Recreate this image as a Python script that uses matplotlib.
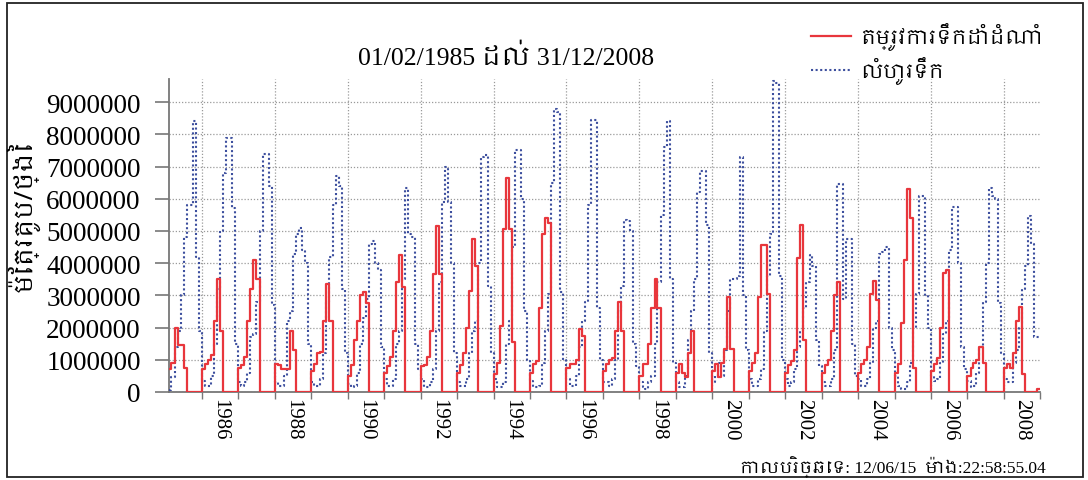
import datetime as dt
import numpy as np
import pandas as pd
import matplotlib
matplotlib.use("Agg")
import matplotlib.pyplot as plt
import matplotlib.dates as mdates
from matplotlib import font_manager
from matplotlib.ft2font import FT2Font
from matplotlib.lines import Line2D
from matplotlib.patches import Rectangle

# ---------------- data (million m3 / day, monthly) ----------------
UNIT = 1_000_000
START = "1985-02-01"
END = "2008-12-01"

# irrigation water demand (red), Jan..Dec for each year (1985 starts in Feb)
demand = {
    1985: [0.70, 0.90, 2.00, 1.45, 1.45, 0.75, 0, 0, 0, 0, 0],
    1986: [0.70, 0.87, 1.00, 1.15, 2.20, 3.50, 1.90, 0, 0, 0, 0, 0],
    1987: [0.75, 0.85, 1.10, 2.20, 3.20, 4.10, 3.50, 0, 0, 0, 0, 0],
    1988: [0.87, 0.85, 0.72, 0.70, 0.70, 1.90, 1.30, 0, 0, 0, 0, 0],
    1989: [0.65, 0.87, 1.20, 1.25, 2.20, 3.35, 2.20, 0, 0, 0, 0, 0],
    1990: [0.50, 0.85, 1.60, 2.20, 3.00, 3.10, 2.75, 0, 0, 0, 0, 0],
    1991: [0.60, 0.80, 1.10, 1.90, 3.40, 4.25, 3.25, 0, 0, 0, 0, 0],
    1992: [0.80, 0.85, 1.10, 1.90, 3.65, 5.15, 3.65, 0, 0, 0, 0, 0],
    1993: [0.60, 0.85, 1.20, 2.00, 3.15, 4.75, 3.90, 0, 0, 0, 0, 0],
    1994: [0.55, 0.90, 2.05, 5.05, 6.65, 5.05, 1.55, 0, 0, 0, 0, 0],
    1995: [0.60, 0.87, 0.95, 2.60, 4.90, 5.40, 5.25, 0, 0, 0, 0, 0],
    1996: [0.75, 0.87, 0.87, 1.00, 1.95, 1.75, 0, 0, 0, 0, 0, 0],
    1997: [0.65, 0.87, 1.00, 1.05, 1.90, 2.80, 1.90, 0, 0, 0, 0, 0],
    1998: [0.50, 0.87, 0.87, 1.50, 2.60, 3.50, 2.60, 0, 0, 0, 0, 0],
    1999: [0.60, 0.87, 0.60, 0.45, 1.20, 1.90, 0, 0, 0, 0, 0, 0],
    2000: [0.65, 0.87, 0.45, 0.90, 1.35, 2.95, 1.35, 0, 0, 0, 0, 0],
    2001: [0.65, 0.90, 1.20, 2.95, 4.55, 4.55, 3.05, 0, 0, 0, 0, 0],
    2002: [0.60, 0.85, 0.95, 1.30, 4.15, 5.20, 1.60, 0, 0, 0, 0, 0],
    2003: [0.60, 0.85, 1.00, 1.90, 3.00, 3.40, 0, 0, 0, 0, 0, 0],
    2004: [0.60, 0.87, 1.00, 1.40, 3.05, 3.45, 2.85, 0, 0, 0, 0, 0],
    2005: [0.60, 0.87, 2.15, 4.10, 6.30, 5.40, 0.75, 0, 0, 0, 0, 0],
    2006: [0.65, 0.87, 1.05, 2.00, 3.70, 3.80, 0, 0, 0, 0, 0, 0],
    2007: [0.50, 0.75, 0.90, 1.00, 1.40, 0.90, 0, 0, 0, 0, 0, 0],
    2008: [0.75, 0.87, 0.75, 1.20, 2.20, 2.65, 0.55, 0, 0, 0, 0, 0.10],
}

# river flow (blue dotted), Jan..Dec for each year (1985 starts in Feb)
flow = {
    1985: [0.05, 0.45, 1.40, 1.90, 3.00, 4.80, 5.80, 5.80, 8.40, 4.20, 1.90],
    1986: [0.35, 0.20, 0.20, 0.50, 1.50, 3.20, 5.00, 6.80, 7.90, 7.90, 5.70, 1.50],
    1987: [0.30, 0.20, 0.30, 0.60, 1.70, 1.80, 2.80, 5.00, 7.40, 7.40, 6.40, 2.70],
    1988: [0.30, 0.20, 0.20, 0.50, 2.20, 2.50, 4.30, 4.90, 5.10, 4.40, 4.00, 1.50],
    1989: [0.30, 0.20, 0.20, 0.40, 1.20, 2.80, 4.20, 5.80, 6.70, 6.40, 3.20, 1.20],
    1990: [0.25, 0.15, 0.20, 0.60, 1.50, 2.30, 2.90, 4.60, 4.70, 4.00, 3.80, 1.40],
    1991: [0.40, 0.20, 0.20, 0.40, 1.50, 1.90, 3.50, 6.35, 4.90, 4.80, 1.50, 0.70],
    1992: [0.40, 0.15, 0.15, 0.30, 0.70, 1.90, 3.40, 5.90, 7.00, 5.90, 4.00, 1.20],
    1993: [0.30, 0.20, 0.20, 0.40, 1.20, 1.90, 2.20, 4.00, 7.30, 7.35, 3.30, 1.20],
    1994: [0.40, 0.15, 0.15, 0.30, 1.50, 2.20, 4.50, 7.50, 7.50, 6.00, 2.50, 1.00],
    1995: [0.35, 0.15, 0.15, 0.20, 0.90, 1.90, 3.05, 6.50, 8.80, 8.70, 3.10, 1.00],
    1996: [0.40, 0.20, 0.20, 0.50, 1.40, 2.20, 2.80, 5.80, 8.45, 8.45, 2.60, 1.00],
    1997: [0.30, 0.30, 0.20, 0.40, 1.00, 2.50, 3.30, 5.35, 5.30, 5.00, 1.50, 0.80],
    1998: [0.30, 0.15, 0.10, 0.30, 0.50, 1.50, 3.40, 5.50, 7.60, 8.40, 3.50, 0.90],
    1999: [0.30, 0.15, 0.15, 0.50, 1.60, 2.50, 3.50, 6.20, 6.85, 6.85, 5.20, 1.20],
    2000: [0.30, 0.50, 0.90, 0.50, 1.30, 2.50, 3.50, 3.50, 3.60, 7.30, 3.00, 1.30],
    2001: [0.40, 0.20, 0.20, 0.40, 0.70, 1.90, 3.60, 4.90, 9.65, 9.60, 3.60, 1.00],
    2002: [0.40, 0.20, 0.30, 0.70, 1.40, 1.90, 2.60, 3.40, 4.25, 3.90, 1.60, 0.80],
    2003: [0.30, 0.20, 0.20, 0.40, 1.30, 6.45, 6.45, 2.90, 4.75, 4.75, 1.50, 0.50],
    2004: [0.40, 0.20, 0.20, 0.40, 0.90, 2.00, 2.20, 4.30, 4.35, 4.50, 2.00, 1.30],
    2005: [0.50, 0.20, 0.10, 0.10, 0.30, 0.90, 2.00, 3.05, 6.10, 6.10, 3.00, 2.00],
    2006: [0.50, 0.35, 0.40, 0.90, 1.80, 2.20, 4.40, 5.75, 5.75, 4.00, 1.40, 0.70],
    2007: [0.35, 0.15, 0.20, 0.60, 1.40, 2.80, 4.00, 6.35, 6.10, 6.00, 2.75, 1.20],
    2008: [0.40, 0.30, 0.30, 0.90, 1.30, 2.00, 3.20, 3.90, 5.45, 4.60, 1.70, 1.70],
}

y_ticks = [0, 1000000, 2000000, 3000000, 4000000, 5000000,
           6000000, 7000000, 8000000, 9000000]
year_labels = list(range(1986, 2009, 2))

title_text = "01/02/1985 ដល់ 31/12/2008"
ylabel_text = "ម៉ែត្រគូប/ថ្ងៃ"
legend_labels = ["តម្រូវការទឹកដាំដំណាំ", "លំហូរទឹក"]
footer_text = "កាលបរិច្ឆេទ: 12/06/15  ម៉ោង:22:58:55.04"


# ---------------- fonts ----------------
def khmer_families():
    names = []
    for f in font_manager.fontManager.ttflist:
        if f.name in names:
            continue
        try:
            cm = FT2Font(f.fname).get_charmap()
            if 0x1780 in cm and 0x17D2 in cm:
                names.append(f.name)
        except Exception:
            pass
    names.sort(key=lambda n: (0 if "Khmer" in n else 1, n))
    return names


KH = khmer_families()
SERIF_MIX = ["Liberation Serif"] + KH + ["DejaVu Sans"]
KH_MIX = KH + ["Liberation Serif", "DejaVu Sans"]

# ---------------- series ----------------
dates = pd.date_range(START, END, freq="MS")
dem = np.concatenate([demand[y] for y in sorted(demand)]) * UNIT
flo = np.concatenate([flow[y] for y in sorted(flow)]) * UNIT
end_date = dates[-1] + pd.offsets.MonthBegin(1)
xd = list(dates) + [end_date]
dem_s = np.append(dem, dem[-1])
flo_s = np.append(flo, flo[-1])

# ---------------- figure ----------------
fig = plt.figure(figsize=(10.88, 4.81), dpi=100)
fig.patch.set_facecolor("white")
fig.patches.append(Rectangle((0.0065, 0.006), 0.9885, 0.986, transform=fig.transFigure,
                             fill=False, edgecolor="#222222", linewidth=1.3))

ax = fig.add_axes([0.155, 0.183, 0.8013, 0.6507])

ax.step(xd, flo_s, where="post", color="#3d4f9e", linewidth=1.5,
        linestyle=(0, (1, 1.2)), label=legend_labels[1], zorder=3)
ax.step(xd, dem_s, where="post", color="#e8363c", linewidth=1.6,
        label=legend_labels[0], zorder=4)

ax.set_xlim(dates[0], end_date)
ax.set_ylim(0, 9.72 * UNIT)

# grid
ax.set_yticks(y_ticks)
ax.yaxis.grid(True, color="#9a9a9a", linestyle=(0, (1, 1.5)), linewidth=0.9)
for yr in year_labels:
    ax.axvline(dt.datetime(yr, 1, 1), color="#9a9a9a", linestyle=(0, (1, 1.5)),
               linewidth=0.9, zorder=1)

# x ticks: a tick mark every year, labels mid-year of even years
ax.xaxis.set_major_locator(mdates.YearLocator(1))
ax.xaxis.set_major_formatter(plt.NullFormatter())
ax.set_xticks([dt.datetime(y, 7, 1) for y in year_labels], minor=True)
ax.set_xticklabels([str(y) for y in year_labels], minor=True, rotation=-90,
                   fontsize=15, family="Liberation Serif")
ax.tick_params(axis="x", which="major", length=5, width=1.0, color="#777777",
               direction="out")
ax.tick_params(axis="x", which="minor", length=0, pad=4)

ax.set_yticklabels([str(v) for v in y_ticks], fontsize=19.5, family="Liberation Serif")
ax.tick_params(axis="y", length=10, width=1.2, color="#777777", direction="out", pad=10)

for s in ("top", "right"):
    ax.spines[s].set_visible(False)
for s in ("left", "bottom"):
    ax.spines[s].set_color("#777777")
    ax.spines[s].set_linewidth(1.3)

# texts
fig.text(0.465, 0.881, title_text, ha="center", va="center", fontsize=18.5,
         family=SERIF_MIX)
fig.text(0.021, 0.55, ylabel_text, ha="center", va="center", rotation=90,
         fontsize=18, family=KH_MIX)
fig.text(0.961, 0.03, footer_text, ha="right", va="center", fontsize=12.5,
         family=SERIF_MIX)

handles = [Line2D([], [], color="#e8363c", linewidth=1.6),
           Line2D([], [], color="#3d4f9e", linewidth=1.5, linestyle=(0, (1, 1.2)))]
fig.legend(handles, legend_labels, loc="upper left", bbox_to_anchor=(0.738, 0.968),
           frameon=False, prop={"family": KH_MIX, "size": 14.5},
           handlelength=2.0, handletextpad=0.45, labelspacing=0.3, borderaxespad=0)

fig.savefig("out.png", dpi=100)
